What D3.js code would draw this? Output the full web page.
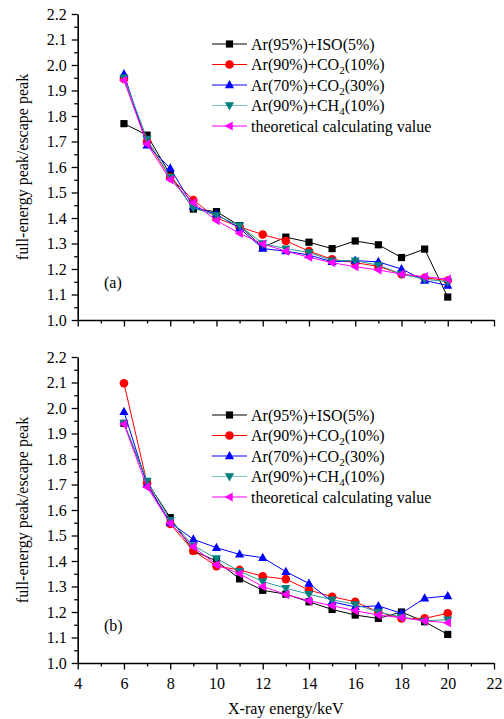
<!DOCTYPE html>
<html>
<head>
<meta charset="utf-8">
<script src="https://cdn.jsdelivr.net/npm/d3@7"></script>
<style>
  body { margin: 0; background: #fff; }
  svg text { font-family: "Liberation Serif", "Times New Roman", serif; }
</style>
</head>
<body>
<svg id="chart" width="504" height="719"></svg>
<script>
// x values (keV)
const energy = [6, 7, 8, 9, 10, 11, 12, 13, 14, 15, 16, 17, 18, 19, 20]

const seriesNames = ["Ar(95%)+ISO(5%)", "Ar(90%)+CO2(10%)", "Ar(70%)+CO2(30%)", "Ar(90%)+CH4(10%)", "theoretical calculating value"]

// panel (a)
const a_iso   = [1.770, 1.725, 1.570, 1.435, 1.425, 1.370, 1.285, 1.325, 1.305, 1.280, 1.310, 1.295, 1.245, 1.278, 1.090]
const a_co210 = [1.945, 1.700, 1.560, 1.470, 1.400, 1.365, 1.335, 1.310, 1.270, 1.238, 1.225, 1.210, 1.180, 1.165, 1.155]
const a_co230 = [1.965, 1.685, 1.595, 1.445, 1.415, 1.360, 1.280, 1.270, 1.255, 1.228, 1.233, 1.228, 1.200, 1.155, 1.135]
const a_ch4   = [1.950, 1.710, 1.560, 1.440, 1.410, 1.370, 1.300, 1.280, 1.265, 1.233, 1.233, 1.215, 1.180, 1.160, 1.150]
const a_theo  = [1.940, 1.690, 1.550, 1.460, 1.390, 1.340, 1.298, 1.270, 1.246, 1.225, 1.209, 1.196, 1.180, 1.170, 1.160]

// panel (b)
const b_iso   = [1.940, 1.710, 1.570, 1.440, 1.400, 1.330, 1.285, 1.270, 1.240, 1.210, 1.188, 1.175, 1.200, 1.162, 1.112]
const b_co210 = [2.097, 1.705, 1.545, 1.440, 1.380, 1.365, 1.340, 1.329, 1.286, 1.260, 1.240, 1.200, 1.175, 1.175, 1.195]
const b_co230 = [1.985, 1.700, 1.550, 1.485, 1.452, 1.426, 1.413, 1.358, 1.312, 1.240, 1.220, 1.224, 1.195, 1.254, 1.263]
const b_ch4   = [1.940, 1.714, 1.560, 1.460, 1.410, 1.360, 1.320, 1.293, 1.270, 1.248, 1.230, 1.200, 1.180, 1.165, 1.170]
const b_theo  = [1.937, 1.690, 1.548, 1.456, 1.385, 1.350, 1.300, 1.269, 1.244, 1.225, 1.205, 1.188, 1.178, 1.165, 1.158]

const xTicks = [4, 6, 8, 10, 12, 14, 16, 18, 20, 22]
const yTicks = [1.0, 1.1, 1.2, 1.3, 1.4, 1.5, 1.6, 1.7, 1.8, 1.9, 2.0, 2.1, 2.2]

const colors = ["#000000", "#ff0000", "#0000ff", "#008080", "#ff00ff"]
const lineColors = ["#000000", "#ff0000", "#0000ff", "#2e9a96", "#ff00ff"]
const symbols = ["square", "circle", "up", "down", "left"]

const serif = '"Liberation Serif", "Times New Roman", serif'

let svg = d3.select("#chart")

let x = d3.scaleLinear().domain([4, 22]).range([77.7, 494])

function marker(g, type, color) {
    if (type == "square") {
        g.append("rect").attr("x", -3.6).attr("y", -3.6).attr("width", 7.2).attr("height", 7.2)
            .attr("fill", color)
    } else if (type == "circle") {
        g.append("circle").attr("r", 4.3).attr("fill", color)
    } else {
        let pts
        if (type == "up") pts = [[0, -5], [4.6, 3.2], [-4.6, 3.2]]
        if (type == "down") pts = [[0, 5], [4.6, -3.2], [-4.6, -3.2]]
        if (type == "left") pts = [[-5, 0], [3.2, -4.6], [3.2, 4.6]]
        g.append("polygon").attr("points", pts.map(p => p.join(",")).join(" "))
            .attr("fill", color)
    }
}

function legendLabel(t, name) {
    // subscript digits after CO / CH
    let m = name.match(/^(.*\+(?:CO|CH))(\d)(\(.*\))$/)
    if (!m) { t.text(name); return }
    t.append("tspan").text(m[1])
    t.append("tspan").text(m[2]).attr("font-size", "11px").attr("dy", 4)
    t.append("tspan").text(m[3]).attr("dy", -4)
}

function panel(top, bottom, data, tag, showXLabels, legendY) {
    let y = d3.scaleLinear().domain([1, 2.2]).range([bottom, top])
    let g = svg.append("g")

    // minor ticks
    g.append("g")
        .attr("transform", "translate(0," + bottom + ")")
        .call(d3.axisBottom(x).tickValues(d3.range(5, 22, 2)).tickSize(3.5).tickFormat(""))
        .call(a => a.select(".domain").remove())
    g.append("g")
        .attr("transform", "translate(" + x(4) + ",0)")
        .call(d3.axisLeft(y).tickValues(d3.range(1.05, 2.2, 0.1)).tickSize(3.5).tickFormat(""))
        .call(a => a.select(".domain").remove())

    g.append("g")
        .attr("transform", "translate(0," + bottom + ")")
        .call(d3.axisBottom(x).tickValues(xTicks).tickSize(6.5).tickSizeOuter(0).tickPadding(8)
            .tickFormat(showXLabels ? d3.format("d") : ""))
    g.append("g")
        .attr("transform", "translate(" + x(4) + ",0)")
        .call(d3.axisLeft(y).tickValues(yTicks).tickSize(6).tickSizeOuter(0).tickPadding(5)
            .tickFormat(d3.format(".1f")))
    g.selectAll("g").attr("font-family", serif)
    g.selectAll(".tick line").attr("stroke-width", 1.3)
    g.selectAll(".domain").attr("stroke-width", 1.6)
    g.selectAll(".tick text").attr("font-size", "16px").attr("fill", "#000")
        .style("font-family", serif)

    g.append("text")
        .attr("transform", "translate(28," + (top + bottom) / 2 + ") rotate(-90)")
        .attr("text-anchor", "middle")
        .attr("font-size", "16px")
        .text("full-energy peak/escape peak")

    g.append("text")
        .attr("x", 104).attr("y", bottom - 32)
        .attr("font-size", "16px")
        .text(tag)

    data.forEach((vals, i) => {
        let pts = energy.map((e, k) => [x(e), y(vals[k])])
        g.append("path")
            .attr("d", d3.line()(pts))
            .attr("fill", "none")
            .attr("stroke", lineColors[i])
            .attr("stroke-width", 1)
        pts.forEach(p => {
            let m = g.append("g").attr("transform", "translate(" + p + ")")
            marker(m, symbols[i], colors[i])
        })
    })

    // legend
    let lg = g.append("g")
    seriesNames.forEach((name, i) => {
        let ly = legendY + i * 20.5
        lg.append("line")
            .attr("x1", 212).attr("x2", 247).attr("y1", ly).attr("y2", ly)
            .attr("stroke", i == 3 ? "#7cc4bf" : lineColors[i]).attr("stroke-width", 1.2)
        let m = lg.append("g").attr("transform", "translate(229.5," + ly + ")")
        marker(m, symbols[i], colors[i])
        let t = lg.append("text")
            .attr("x", 251).attr("y", ly + 5.5)
            .attr("font-size", "16px")
        legendLabel(t, name)
    })
}

panel(14, 320, [a_iso, a_co210, a_co230, a_ch4, a_theo], "(a)", false, 44)
panel(357, 663, [b_iso, b_co210, b_co230, b_ch4, b_theo], "(b)", true, 415)

svg.append("text")
    .attr("x", x(13)).attr("y", 714)
    .attr("text-anchor", "middle")
    .attr("font-size", "16px")
    .text("X-ray energy/keV")
</script>
</body>
</html>
